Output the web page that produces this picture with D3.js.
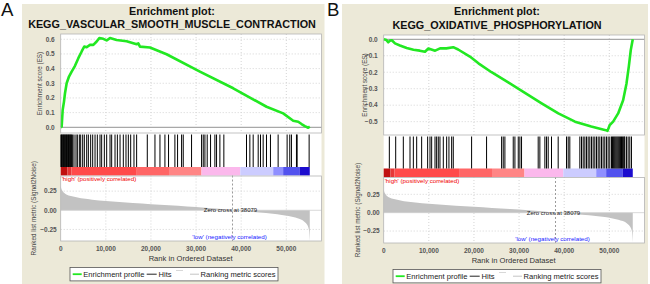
<!DOCTYPE html>
<html><head><meta charset="utf-8">
<script src="https://cdn.jsdelivr.net/npm/d3@7/dist/d3.min.js"></script>
<style>
html,body{margin:0;padding:0;background:#fff;}
svg{display:block;font-family:"Liberation Sans",Arial,sans-serif;}
</style></head><body>
<svg id="c" width="650" height="284"></svg>
<script>
// ---------------- DATA ----------------
const panelLabels = ["A", "B"];
const geneSetNames = ["KEGG_VASCULAR_SMOOTH_MUSCLE_CONTRACTION", "KEGG_OXIDATIVE_PHOSPHORYLATION"];
const listSize = 55200;
const xMax = 57800;
const zeroCross = 38079;
const xTicks = [0, 10000, 20000, 30000, 40000, 50000];
const esTicksA = [0, 0.1, 0.2, 0.3, 0.4, 0.5, 0.6];
const esTicksB = [0, -0.1, -0.2, -0.3, -0.4, -0.5];
const metricTicks = [0.25, 0, -0.25];

const esRanksA = [0, 215, 435, 730, 950, 1320, 1840, 2430, 3170, 3910, 4650, 5240, 5750, 6490, 7230, 7970, 8560, 9440, 10180, 10920, 12400, 14610, 16830, 17200, 17570, 19780, 23470, 30850, 38240, 45620, 49310, 51530, 52640, 53380, 54110, 54850, 55200];
const esValuesA = [0, 0.004, 0.118, 0.175, 0.232, 0.30, 0.346, 0.38, 0.419, 0.471, 0.517, 0.551, 0.546, 0.562, 0.562, 0.585, 0.608, 0.603, 0.592, 0.608, 0.595, 0.587, 0.566, 0.572, 0.55, 0.544, 0.498, 0.38, 0.266, 0.14, 0.095, 0.045, 0.038, 0.022, 0.008, -0.003, 0.004];

const esRanksB = [0, 600, 1000, 1400, 1800, 2500, 3600, 5100, 6600, 8000, 9150, 9900, 11400, 12500, 13900, 15400, 16500, 19100, 21000, 23900, 27600, 31300, 35000, 38700, 42400, 46000, 49000, 49600, 50100, 50850, 51960, 53060, 53800, 54320, 54760, 55200];
const esValuesB = [0, -0.005, -0.018, -0.008, -0.006, -0.025, -0.038, -0.053, -0.064, -0.069, -0.076, -0.056, -0.069, -0.055, -0.055, -0.048, -0.062, -0.105, -0.146, -0.2, -0.262, -0.325, -0.389, -0.45, -0.50, -0.53, -0.55, -0.556, -0.52, -0.50, -0.45, -0.37, -0.27, -0.166, -0.065, 0];

const hitsA = [40, 180, 320, 460, 600, 740, 880, 1020, 1160, 1300, 1440, 1580, 1720, 1860, 2000, 2140, 2280, 2420,
  2650, 2950, 3390, 3690, 4130, 4430, 4870, 5240, 5760, 6130, 6640, 7090, 7610, 8120, 8710, 9080, 9670, 10190,
  10930, 11300, 12040, 12560, 13150, 13880, 14470, 14990, 15510, 16240, 16830, 19190, 20890, 22000, 23100, 23900,
  25310, 25900, 26790, 27160, 29000, 31220, 31590, 31960, 32470, 33210, 34170, 34540, 35280, 36160, 41180, 41920,
  42660, 43770, 44280, 44870, 45610, 46490, 48190, 50180, 50770, 51140, 52250, 52400, 55060];

const hitsB = [1250, 2660, 4350, 5830, 6570, 7310, 8410, 9740, 10260, 10630, 11370, 11730, 12100, 12470, 13210,
  13950, 14460, 15060, 15420, 19480, 22800, 26130, 26490, 26860, 28710, 29080, 29820, 30180, 30550, 34240, 34610,
  35720, 36090, 36460, 37190, 38670, 40520, 40890, 41250, 43470, 43840, 44210, 44580, 44940, 45310, 45680, 46050,
  46420, 46790, 47160, 47530, 47900, 48270, 48630, 49000, 49370, 49740, 50110, 50480, 50700, 50900, 51100, 51300,
  51500, 51700, 51900, 52100, 52300, 52500, 52700, 52900, 53100, 53300, 53430, 53800, 54170, 54540, 54910];

const metricRanks = [0, 100, 300, 600, 1000, 1500, 2000, 3000, 4000, 5000, 7000, 10000, 13000, 16000, 20000, 24000, 28000, 32000, 35000, 38079, 41000, 44000, 47000, 49000, 50500, 52000, 53000, 54000, 54500, 55000, 55200];
const metricValues = [0.32, 0.29, 0.26, 0.235, 0.215, 0.2, 0.19, 0.175, 0.163, 0.153, 0.138, 0.12, 0.107, 0.096, 0.08, 0.065, 0.05, 0.034, 0.02, 0, -0.014, -0.028, -0.045, -0.06, -0.075, -0.095, -0.115, -0.15, -0.18, -0.25, -0.40];

const colorBarBreaks = [0, 1500, 2400, 16700, 24000, 31200, 39800, 47100, 49300, 53000, 55200];

// ---------------- STYLE / LAYOUT ----------------
const colorBarColors = ["#c01010", "#e63636", "#ff4a4a", "#ff6666", "#ff8585", "#fbb8ec", "#ccccff", "#8f8fff", "#5252ee", "#1c0cce"];
const beige = "#ECE9D8";
const green = "#22e822";

const layouts = [
  {bgX: 22, bgY: 4, bgW: 302.5, bgH: 280, labelX: 1, labelY: 15.5, titleX: 172, title1Y: 14.9, title2Y: 27.9,
   left: 60.7, right: 321.5, esTop: 34, esBottom: 133, hitsBottom: 167, cbBottom: 175.5, metBottom: 241,
   esDomain: [-0.039, 0.636], metDomain: [-0.401, 0.454], yl1X: 39.5, yl2X: 33.5, legendX: 70},
  {bgX: 342, bgY: 4, bgW: 306, bgH: 280, labelX: 327, labelY: 15.5, titleX: 497, title1Y: 14.9, title2Y: 28.9,
   left: 383.7, right: 644.5, esTop: 35, esBottom: 135, hitsBottom: 168.5, cbBottom: 177, metBottom: 243,
   esDomain: [-0.581, 0.026], metDomain: [-0.413, 0.486], yl1X: 364.3, yl2X: 357.7, legendX: 393}
];

const datasets = [
  {label: panelLabels[0], name: geneSetNames[0], esR: esRanksA, esV: esValuesA, esTicks: esTicksA, hits: hitsA},
  {label: panelLabels[1], name: geneSetNames[1], esR: esRanksB, esV: esValuesB, esTicks: esTicksB, hits: hitsB}
];

const svg = d3.select("#c");

function drawPanel(L, D) {
  const g = svg.append("g");
  g.append("rect").attr("x", L.bgX).attr("y", L.bgY).attr("width", L.bgW).attr("height", L.bgH).attr("fill", beige);
  g.append("text").attr("x", L.labelX).attr("y", L.labelY).attr("font-size", 18.6).attr("fill", "#111").text(D.label);
  g.append("text").attr("x", L.titleX).attr("y", L.title1Y).attr("text-anchor", "middle")
    .attr("font-weight", "bold").attr("font-size", 10.8).attr("fill", "#111").text("Enrichment plot:");
  g.append("text").attr("x", L.titleX).attr("y", L.title2Y).attr("text-anchor", "middle")
    .attr("font-weight", "bold").attr("font-size", 10.8).attr("fill", "#111").text(D.name);

  const x = d3.scaleLinear().domain([0, xMax]).range([L.left, L.right]);
  const yEs = d3.scaleLinear().domain(L.esDomain).range([L.esBottom, L.esTop]);
  const yMet = d3.scaleLinear().domain(L.metDomain).range([L.metBottom, L.cbBottom]);
  const W = L.right - L.left;

  g.append("rect").attr("x", L.left).attr("y", L.esTop).attr("width", W).attr("height", L.metBottom - L.esTop).attr("fill", "#fff");

  const gridC = "#d4d4d4";
  g.selectAll(null).data(xTicks.filter(d => d > 0)).join("line")
    .attr("x1", d => x(d)).attr("x2", d => x(d)).attr("y1", L.esTop).attr("y2", L.esBottom)
    .attr("stroke", gridC).attr("stroke-dasharray", "1,2");
  g.selectAll(null).data(D.esTicks.filter(d => d !== 0)).join("line")
    .attr("x1", L.left).attr("x2", L.right).attr("y1", d => yEs(d)).attr("y2", d => yEs(d))
    .attr("stroke", gridC).attr("stroke-dasharray", "1,2");
  g.append("line").attr("x1", L.left).attr("x2", L.right).attr("y1", yEs(0)).attr("y2", yEs(0))
    .attr("stroke", "#a8a8a8").attr("stroke-width", 1.2);
  g.selectAll(null).data(xTicks.filter(d => d > 0)).join("line")
    .attr("x1", d => x(d)).attr("x2", d => x(d)).attr("y1", L.cbBottom).attr("y2", L.metBottom)
    .attr("stroke", gridC).attr("stroke-dasharray", "1,2");
  g.selectAll(null).data(metricTicks.filter(d => d !== 0)).join("line")
    .attr("x1", L.left).attr("x2", L.right).attr("y1", d => yMet(d)).attr("y2", d => yMet(d))
    .attr("stroke", gridC).attr("stroke-dasharray", "1,2");

  const segs = d3.range(colorBarColors.length).map(i => ({a: colorBarBreaks[i], b: colorBarBreaks[i + 1], c: colorBarColors[i]}));
  g.selectAll(null).data(segs).join("rect")
    .attr("x", d => x(d.a)).attr("width", d => x(d.b) - x(d.a))
    .attr("y", L.hitsBottom).attr("height", L.cbBottom - L.hitsBottom).attr("fill", d => d.c);

  g.selectAll(null).data(D.hits).join("line")
    .attr("x1", d => x(d)).attr("x2", d => x(d)).attr("y1", L.esBottom + 1.5).attr("y2", L.hitsBottom)
    .attr("stroke", "#000").attr("stroke-width", 1);

  const met = metricRanks.map((r, i) => [r, metricValues[i]]);
  g.append("path").datum(met)
    .attr("d", d3.area().x(d => x(d[0])).y0(yMet(0)).y1(d => yMet(d[1])).curve(d3.curveMonotoneX))
    .attr("fill", "#c2c2c2");
  g.append("line").attr("x1", L.left).attr("x2", L.right).attr("y1", yMet(0)).attr("y2", yMet(0))
    .attr("stroke", "#cfcfcf").attr("stroke-width", 0.8);

  g.append("line").attr("x1", x(zeroCross)).attr("x2", x(zeroCross)).attr("y1", L.cbBottom).attr("y2", L.metBottom)
    .attr("stroke", "#9a9a9a").attr("stroke-dasharray", "2,2");
  g.append("text").attr("x", x(zeroCross) - 2).attr("y", yMet(0) + 2).attr("text-anchor", "middle")
    .attr("font-size", 6).attr("fill", "#222").text("Zero cross at " + zeroCross);
  g.append("text").attr("x", L.left + 1).attr("y", L.cbBottom + 5.8).attr("font-size", 6.2)
    .attr("fill", "#f00000").text("'high' (positively correlated)");
  g.append("text").attr("x", x(zeroCross) - 3).attr("y", L.metBottom - 1.6).attr("text-anchor", "middle").attr("font-size", 6.2)
    .attr("fill", "#2020ff").text("'low' (negatively correlated)");

  const es = D.esR.map((r, i) => [r, D.esV[i]]);
  g.append("path").datum(es)
    .attr("d", d3.line().x(d => x(d[0])).y(d => yEs(d[1])))
    .attr("fill", "none").attr("stroke", green).attr("stroke-width", 2.6).attr("stroke-linejoin", "round");

  const bc = "#b4b4b4";
  g.append("rect").attr("x", L.left).attr("y", L.esTop).attr("width", W).attr("height", L.esBottom - L.esTop)
    .attr("fill", "none").attr("stroke", bc).attr("stroke-width", 0.8);
  g.append("rect").attr("x", L.left).attr("y", L.cbBottom + 0.5).attr("width", W).attr("height", L.metBottom - L.cbBottom - 0.5)
    .attr("fill", "none").attr("stroke", bc).attr("stroke-width", 0.8);

  const fmtEs = d3.format(".1f");
  g.selectAll(null).data(D.esTicks).join("text")
    .attr("x", L.left - 6).attr("y", d => yEs(d) + 2.3).attr("text-anchor", "end")
    .attr("font-size", 6.5).attr("font-weight", "bold").attr("fill", "#555").text(d => fmtEs(d));
  const fmtM = d3.format(".2f");
  g.selectAll(null).data(metricTicks).join("text")
    .attr("x", L.left - 4).attr("y", d => yMet(d) + 2.3).attr("text-anchor", "end")
    .attr("font-size", 6.5).attr("font-weight", "bold").attr("fill", "#555").text(d => fmtM(d));
  const fmtX = d3.format(",");
  g.selectAll(null).data(xTicks).join("text")
    .attr("x", d => x(d)).attr("y", L.metBottom + 10.2).attr("text-anchor", "middle")
    .attr("font-size", 6.5).attr("font-weight", "bold").attr("fill", "#555").text(d => fmtX(d));
  g.append("text").attr("x", x(28800)).attr("y", L.metBottom + 19.5)
    .attr("text-anchor", "middle").attr("font-size", 7.6).attr("fill", "#333").text("Rank in Ordered Dataset");
  g.append("text").attr("transform", `translate(${L.yl1X},${(L.esTop + L.esBottom) / 2}) rotate(-90)`)
    .attr("text-anchor", "middle").attr("dy", "0.35em").attr("font-size", 6.3).attr("fill", "#444").text("Enrichment score (ES)");
  g.append("text").attr("transform", `translate(${L.yl2X},${(L.cbBottom + L.metBottom) / 2}) rotate(-90)`)
    .attr("text-anchor", "middle").attr("dy", "0.35em").attr("font-size", 6.4).attr("fill", "#444").text("Ranked list metric (Signal2Noise)");

  const ly = L.metBottom + 26.5, lx = L.legendX, lh = 13.4;
  g.append("rect").attr("x", lx).attr("y", ly).attr("width", 208).attr("height", lh)
    .attr("fill", "#fff").attr("stroke", "#555").attr("stroke-width", 0.8);
  const my = ly + lh / 2;
  g.append("line").attr("x1", lx + 2.7).attr("x2", lx + 11.7).attr("y1", my).attr("y2", my).attr("stroke", green).attr("stroke-width", 1.8);
  g.append("text").attr("x", lx + 13.3).attr("y", ly + 9.7).attr("font-size", 7.6).attr("fill", "#222").text("Enrichment profile");
  g.append("line").attr("x1", lx + 76.7).attr("x2", lx + 86.7).attr("y1", my).attr("y2", my).attr("stroke", "#222").attr("stroke-width", 1);
  g.append("text").attr("x", lx + 88.5).attr("y", ly + 9.7).attr("font-size", 7.6).attr("fill", "#222").text("Hits");
  g.append("line").attr("x1", lx + 106).attr("x2", lx + 113).attr("y1", ly + 3).attr("y2", ly + 3).attr("stroke", "#d8d8d8").attr("stroke-width", 1);
  g.append("line").attr("x1", lx + 120).attr("x2", lx + 129).attr("y1", my).attr("y2", my).attr("stroke", "#c4c4c4").attr("stroke-width", 1);
  g.append("text").attr("x", lx + 130.5).attr("y", ly + 9.7).attr("font-size", 7.6).attr("fill", "#222").text("Ranking metric scores");
}

layouts.forEach((L, i) => drawPanel(L, datasets[i]));
</script>
</body></html>
